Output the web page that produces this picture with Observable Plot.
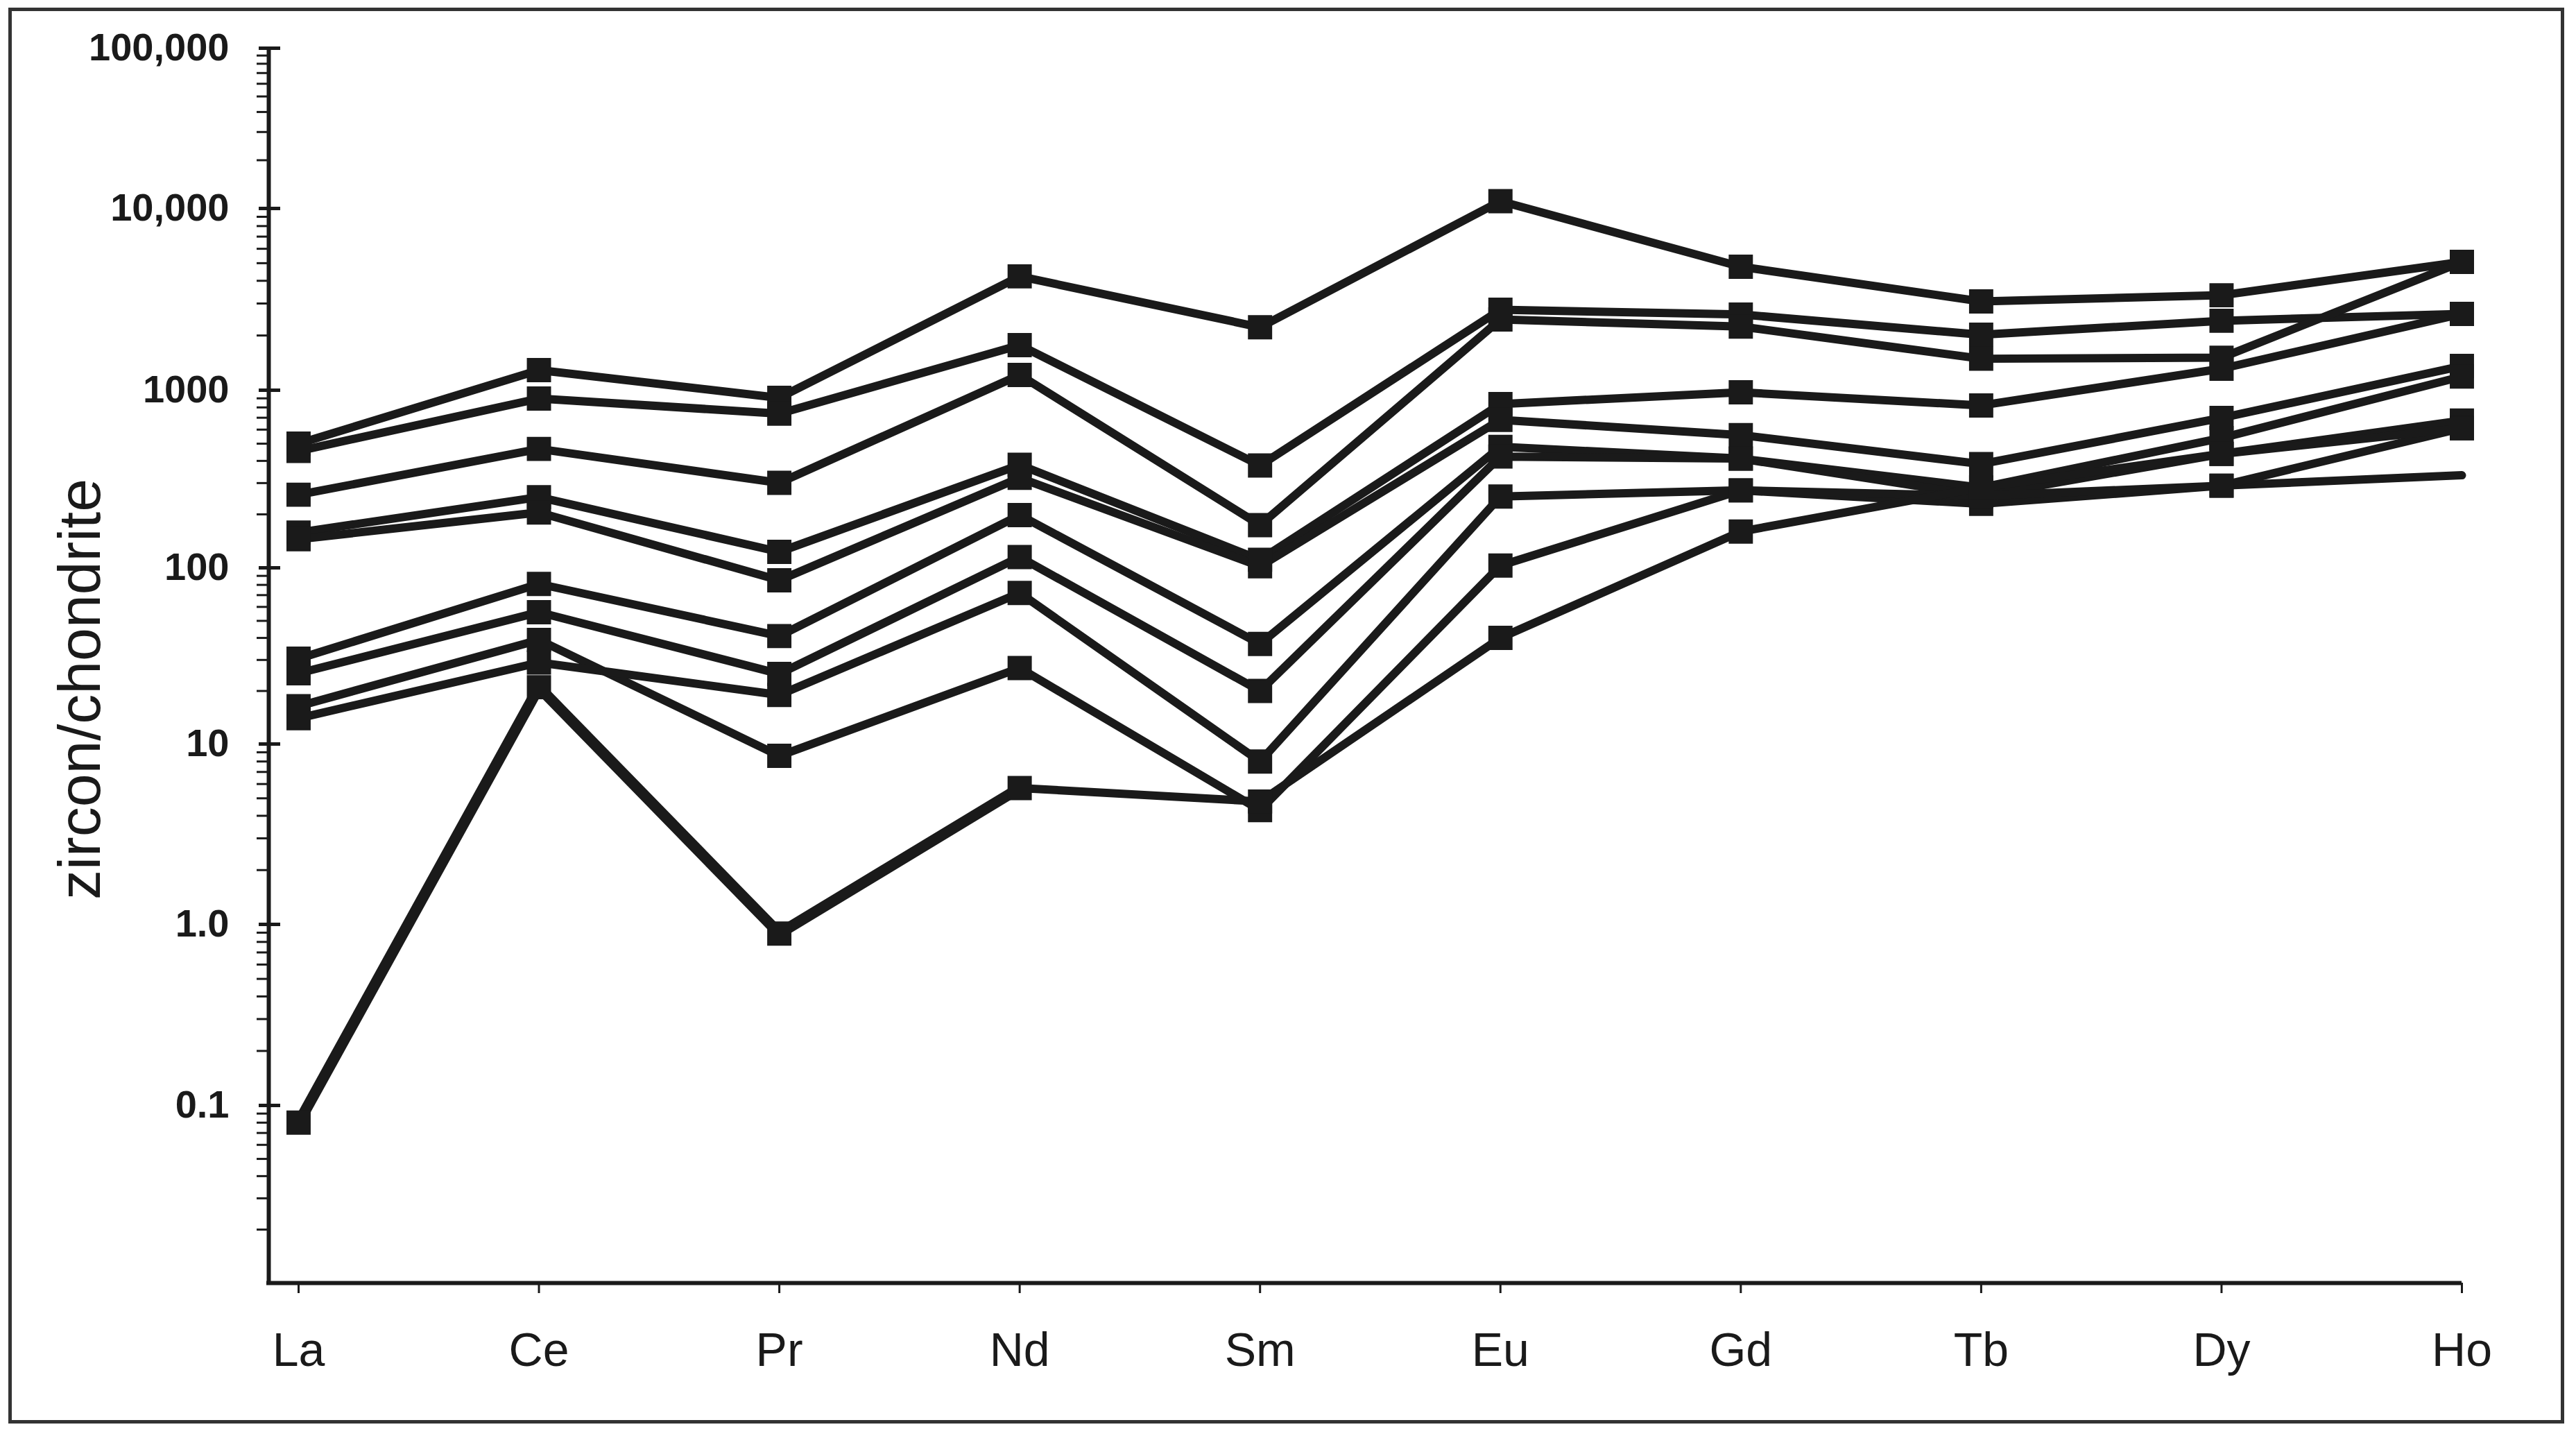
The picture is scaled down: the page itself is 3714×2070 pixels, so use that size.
<!DOCTYPE html>
<html>
<head>
<meta charset="utf-8">
<script src="https://cdn.jsdelivr.net/npm/d3@7"></script>
<script src="https://cdn.jsdelivr.net/npm/@observablehq/plot@0.6"></script>
<style>
  html, body { margin: 0; padding: 0; background: #ffffff; }
  #wrap { position: relative; width: 3714px; height: 2070px; overflow: hidden; background: #fff; }
  #frame { position: absolute; left: 12px; top: 11px; width: 3685px; height: 2041px; border: 5px solid #333; box-sizing: border-box; pointer-events: none; }
</style>
</head>
<body>
<div id="wrap"><div id="chart"></div><div id="frame"></div></div>
<script>
// ---- data (zircon / chondrite) ----
const elements = ["La", "Ce", "Pr", "Nd", "Sm", "Eu", "Gd", "Tb", "Dy", "Ho"];
const sampleNames = ["S1", "S2", "S3", "S4", "S5", "S6", "S7", "S8", "S9", "S10"];
const s1  = [500, 1290, 906, 4230, 2220, 11100, 4780, 3080, 3330, 5080];
const s2  = [455, 898, 738, 1770, 377, 2770, 2610, 2020, 2410, 2630];
const s3  = [258, 467, 301, 1213, 174, 2450, 2240, 1490, 1510, 5080];
const s4  = [158, 250, 123, 380, 111, 836, 973, 821, 1313, 2630];
const s5  = [145, 205, 85, 321, 102, 681, 559, 384, 698, 1360];
const s6  = [30.5, 81, 41, 198, 37, 480, 412, 283, 538, 1190];
const s7  = [25.2, 56, 25, 115, 20, 423, 412, 254, 438, 675];
const s8  = [16.4, 39, 8.6, 27, 4.3, 103, 273, 229, 290, 332];
const s9  = [14.0, 29, 19, 72, 8.0, 252, 273, 254, 290, 611];
const s10 = [0.08, 21, 0.89, 5.7, 4.8, 40, 160, 283, 438, 611];
const seriesValues = [s1, s2, s3, s4, s5, s6, s7, s8, s9, s10];
// points drawn without a square marker (line end only)
const noMarker = [["S8", "Ho"]];

const decades = [0.01, 0.1, 1, 10, 100, 1000, 10000, 100000];
const majorTicks = [0.1, 1, 10, 100, 1000, 10000, 100000];
const majorLabels = ["0.1", "1.0", "10", "100", "1000", "10,000", "100,000"];
const yTitle = "zircon/chondrite";

// ---- build long table ----
const table = [];
seriesValues.forEach((vals, si) => {
  vals.forEach((v, ei) => {
    table.push({sample: sampleNames[si], element: elements[ei], i: ei, value: v,
      marker: !noMarker.some(([s, e]) => s === sampleNames[si] && e === elements[ei])});
  });
});
const minorTicks = [];
for (let e = -2; e < 5; e++) for (let k = 2; k <= 9; k++) minorTicks.push(k * Math.pow(10, e));

const W = 3714, H = 2070;
const mL = 387, mR = 165, mT = 43, mB = 221;
// the printed axis has slightly uneven decades: piecewise log scale matching them
const decadePixels = [1849, 1593, 1332, 1072, 818, 562, 300, 69];
const xLo = -0.124, xHi = elements.length - 1;
const unit = (W - mL - mR) / (xHi - xLo);
const ink = "#1a1a1a";
const font = "'Liberation Sans', Arial, sans-serif";

const chart = Plot.plot({
  width: W, height: H,
  marginLeft: mL, marginRight: mR, marginTop: mT, marginBottom: mB,
  style: {fontFamily: font, color: ink, background: "transparent"},
  x: {type: "linear", domain: [xLo, xHi], axis: null},
  y: {type: "log", domain: decades, range: decadePixels, axis: null},
  marks: [
    // axis lines
    Plot.ruleX([xLo], {y1: 0.01, y2: 100000, stroke: ink, strokeWidth: 6}),
    Plot.ruleY([0.01], {x1: xLo - 3 / unit, x2: xHi, stroke: ink, strokeWidth: 6}),
    // y ticks
    Plot.ruleY(minorTicks.filter(d => d > 0.015), {x1: xLo - 17 / unit, x2: xLo, stroke: ink, strokeWidth: 3}),
    Plot.ruleY(majorTicks, {x1: xLo - 14 / unit, x2: xLo + 17 / unit, stroke: ink, strokeWidth: 5}),
    Plot.text(majorTicks, {x: xLo, y: d => d, text: (d, i) => majorLabels[i], textAnchor: "end", dx: -57,
      fontSize: 56, fontWeight: 700, fill: ink}),
    // x axis ticks and labels
    Plot.axisX({ticks: d3.range(elements.length), tickFormat: i => elements[i], tickSize: 15, label: null,
      tickPadding: 56, fontSize: 68, strokeWidth: 3, stroke: ink, fill: ink}),
    // y title
    Plot.text([yTitle], {frameAnchor: "left", rotate: -90, dx: 143 - mL, dy: 47, lineAnchor: "bottom",
      textAnchor: "middle", fontSize: 86, fill: ink}),
    // data
    Plot.line(table, {x: "i", y: "value", z: "sample", stroke: ink, strokeWidth: 12, strokeLinejoin: "round"}),
    Plot.line(table.filter(d => d.sample === "S10" && d.i <= 3), {x: "i", y: "value", stroke: ink, strokeWidth: 16, strokeLinejoin: "round"}),
    Plot.dot(table.filter(d => d.marker), {x: "i", y: "value", symbol: "square", r: 19.7, fill: ink, stroke: null})
  ]
});
document.getElementById("chart").appendChild(chart);
</script>
</body>
</html>
